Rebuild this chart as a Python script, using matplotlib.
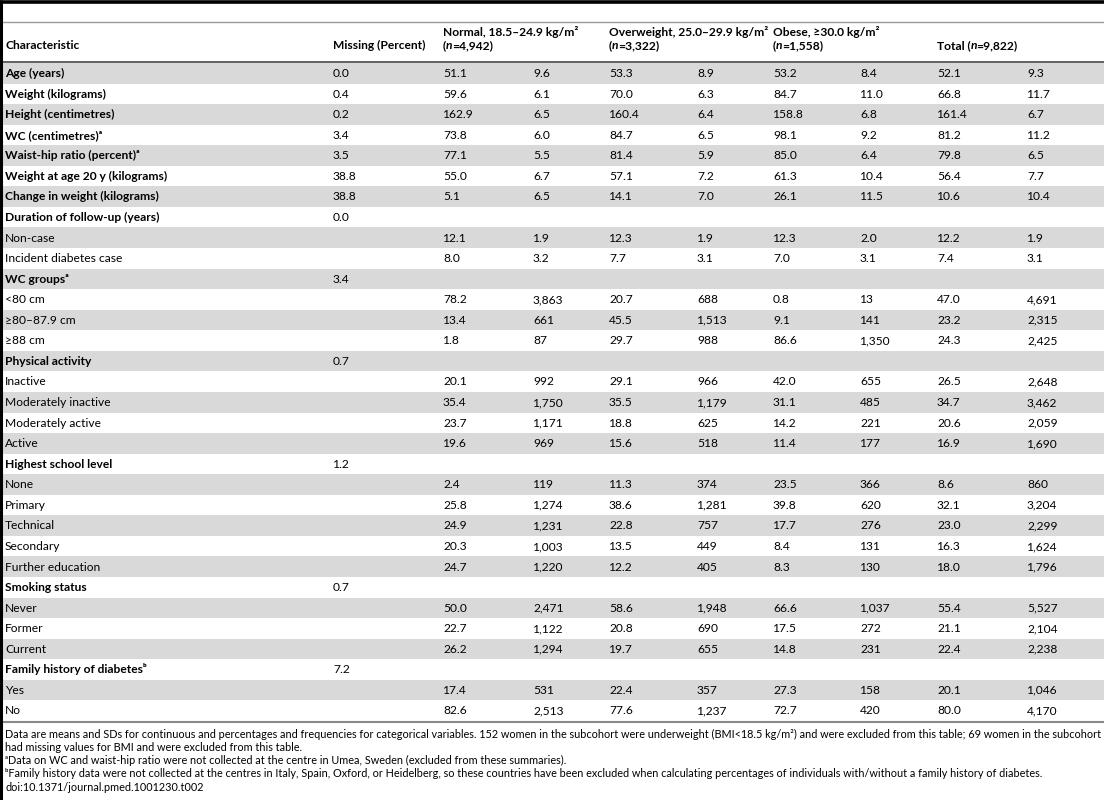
import matplotlib
matplotlib.use("Agg")
import matplotlib.pyplot as plt
from matplotlib.patches import Rectangle

FAM = 'Lato'
plt.rcParams['font.family'] = [FAM, 'DejaVu Sans']

# ---------------- data ----------------
col_headers_line1 = ["", "", "Normal, 18.5–24.9 kg/m²", "Overweight, 25.0–29.9 kg/m²", "Obese, ≥30.0 kg/m²", ""]
col_headers_prefix = ["Characteristic", "Missing (Percent)", "(", "(", "(", "Total ("]
col_headers_n = ["", "", "4,942", "3,322", "1,558", "9,822"]

labels = [
    "Age (years)", "Weight (kilograms)", "Height (centimetres)", "WC (centimetres)ᵃ",
    "Waist-hip ratio (percent)ᵃ", "Weight at age 20 y (kilograms)", "Change in weight (kilograms)",
    "Duration of follow-up (years)", "Non-case", "Incident diabetes case", "WC groupsᵃ",
    "<80 cm", "≥80–87.9 cm", "≥88 cm", "Physical activity", "Inactive", "Moderately inactive",
    "Moderately active", "Active", "Highest school level", "None", "Primary", "Technical",
    "Secondary", "Further education", "Smoking status", "Never", "Former", "Current",
    "Family history of diabetesᵇ", "Yes", "No",
]
is_bold = [True] * 8 + [False, False, True, False, False, False, True, False, False, False, False,
                        True, False, False, False, False, False, True, False, False, False, True, False, False]
missing = ["0.0", "0.4", "0.2", "3.4", "3.5", "38.8", "38.8", "0.0", "", "", "3.4", "", "", "",
           "0.7", "", "", "", "", "1.2", "", "", "", "", "", "0.7", "", "", "", "7.2", "", ""]

normal_a = ["51.1", "59.6", "162.9", "73.8", "77.1", "55.0", "5.1", "", "12.1", "8.0", "", "78.2", "13.4", "1.8",
            "", "20.1", "35.4", "23.7", "19.6", "", "2.4", "25.8", "24.9", "20.3", "24.7", "", "50.0", "22.7",
            "26.2", "", "17.4", "82.6"]
normal_b = ["9.6", "6.1", "6.5", "6.0", "5.5", "6.7", "6.5", "", "1.9", "3.2", "", "3,863", "661", "87",
            "", "992", "1,750", "1,171", "969", "", "119", "1,274", "1,231", "1,003", "1,220", "", "2,471",
            "1,122", "1,294", "", "531", "2,513"]
over_a = ["53.3", "70.0", "160.4", "84.7", "81.4", "57.1", "14.1", "", "12.3", "7.7", "", "20.7", "45.5", "29.7",
          "", "29.1", "35.5", "18.8", "15.6", "", "11.3", "38.6", "22.8", "13.5", "12.2", "", "58.6", "20.8",
          "19.7", "", "22.4", "77.6"]
over_b = ["8.9", "6.3", "6.4", "6.5", "5.9", "7.2", "7.0", "", "1.9", "3.1", "", "688", "1,513", "988",
          "", "966", "1,179", "625", "518", "", "374", "1,281", "757", "449", "405", "", "1,948", "690",
          "655", "", "357", "1,237"]
obese_a = ["53.2", "84.7", "158.8", "98.1", "85.0", "61.3", "26.1", "", "12.3", "7.0", "", "0.8", "9.1", "86.6",
           "", "42.0", "31.1", "14.2", "11.4", "", "23.5", "39.8", "17.7", "8.4", "8.3", "", "66.6", "17.5",
           "14.8", "", "27.3", "72.7"]
obese_b = ["8.4", "11.0", "6.8", "9.2", "6.4", "10.4", "11.5", "", "2.0", "3.1", "", "13", "141", "1,350",
           "", "655", "485", "221", "177", "", "366", "620", "276", "131", "130", "", "1,037", "272",
           "231", "", "158", "420"]
total_a = ["52.1", "66.8", "161.4", "81.2", "79.8", "56.4", "10.6", "", "12.2", "7.4", "", "47.0", "23.2", "24.3",
           "", "26.5", "34.7", "20.6", "16.9", "", "8.6", "32.1", "23.0", "16.3", "18.0", "", "55.4", "21.1",
           "22.4", "", "20.1", "80.0"]
total_b = ["9.3", "11.7", "6.7", "11.2", "6.5", "7.7", "10.4", "", "1.9", "3.1", "", "4,691", "2,315", "2,425",
           "", "2,648", "3,462", "2,059", "1,690", "", "860", "3,204", "2,299", "1,624", "1,796", "", "5,527",
           "2,104", "2,238", "", "1,046", "4,170"]

footnotes = [
    "Data are means and SDs for continuous and percentages and frequencies for categorical variables. 152 women in the subcohort were underweight (BMI<18.5 kg/m²) and were excluded from this table; 69 women in the subcohort",
    "had missing values for BMI and were excluded from this table.",
    "ᵃData on WC and waist-hip ratio were not collected at the centre in Umea, Sweden (excluded from these summaries).",
    "ᵇFamily history data were not collected at the centres in Italy, Spain, Oxford, or Heidelberg, so these countries have been excluded when calculating percentages of individuals with/without a family history of diabetes.",
    "doi:10.1371/journal.pmed.1001230.t002",
]

# ---------------- layout ----------------
W, H = 1104, 800
fig = plt.figure(figsize=(W / 100, H / 100), dpi=100)
ax = fig.add_axes([0, 0, 1, 1])
ax.set_xlim(0, W)
ax.set_ylim(H, 0)
ax.axis('off')
fig.canvas.draw()
renderer = fig.canvas.get_renderer()


def text_width(s, fs, **kw):
    t = ax.text(0, 100, s, fontsize=fs, **kw)
    w = t.get_window_extent(renderer).width
    t.remove()
    return w


def fit_size(s, target, fs0=7.0, **kw):
    fs = fs0
    for _ in range(3):
        fs = fs * target / text_width(s, fs, **kw)
    return fs


# calibrate one body font size against widths measured in the reference
FS = 0.5 * (fit_size("Weight (kilograms)", 105.0, fontweight='bold') + fit_size("Incident diabetes case", 111.0))
FS_H = min(FS, fit_size("Overweight, 25.0–29.9 kg/m²", 160.0, fontweight='bold'))

TXT = '#000000'
label_x = 5
missing_x = 333
value_xs = [443, 533, 609, 697, 773, 860, 937, 1027]
header_xs = [label_x, missing_x, 443, 609, 773, 937]

row_top0 = 63.0
row_h = 20.56
n_rows = len(labels)
base_off = row_h / 2 + 3.8   # baseline offset within a row

# row bands
for i in range(n_rows):
    top = row_top0 + i * row_h
    if i % 2 == 0:
        ax.add_patch(Rectangle((3, top), W - 3, row_h, facecolor='#d9d9d9', edgecolor='none', zorder=0))

value_cols = [normal_a, normal_b, over_a, over_b, obese_a, obese_b, total_a, total_b]
for i in range(n_rows):
    yb = row_top0 + i * row_h + base_off
    ax.text(label_x, yb, labels[i], fontsize=FS,
            fontweight='bold' if is_bold[i] else 'normal', va='baseline', ha='left', color=TXT)
    if missing[i]:
        ax.text(missing_x, yb, missing[i], fontsize=FS, va='baseline', ha='left', color=TXT)
    for x, col in zip(value_xs, value_cols):
        if col[i]:
            ax.text(x, yb, col[i], fontsize=FS, va='baseline', ha='left', color=TXT)


def draw_segments(x, y, segments, fs):
    for s, style in segments:
        t = ax.text(x, y, s, fontsize=fs, fontweight='bold', fontstyle=style,
                    va='baseline', ha='left', color=TXT)
        x += t.get_window_extent(renderer).width - (1.0 if style == 'italic' else 0.0)


# headers
for x, t1, pre, nval in zip(header_xs, col_headers_line1, col_headers_prefix, col_headers_n):
    if t1:
        ax.text(x, 35.8, t1, fontsize=FS_H, fontweight='bold', va='baseline', ha='left', color=TXT)
    if nval:
        draw_segments(x, 48.8, [(pre, 'normal'), ("n", 'italic'), ("=" + nval + ")", 'normal')], FS_H)
    else:
        ax.text(x, 48.8, pre, fontsize=FS_H, fontweight='bold', va='baseline', ha='left', color=TXT)

# rules
ax.plot([0, W], [1.5, 1.5], color='#000000', lw=2.6, solid_capstyle='butt')
ax.plot([0, W], [22, 22], color='#9a9a9a', lw=1.0)
ax.plot([0, W], [62, 62], color='#555555', lw=1.3)
ax.plot([0, W], [721.5, 721.5], color='#8a8a8a', lw=1.5)
ax.plot([1, 1], [0, H], color='#000000', lw=2.2, solid_capstyle='butt')

# footnotes (fit the first line to the table width)
fs_note = fit_size(footnotes[0], 1088.0)
for k, line in enumerate(footnotes):
    ax.text(5, 737.5 + k * 13.3, line, fontsize=fs_note, va='baseline', ha='left', color=TXT)

fig.savefig('out.png', dpi=100)
